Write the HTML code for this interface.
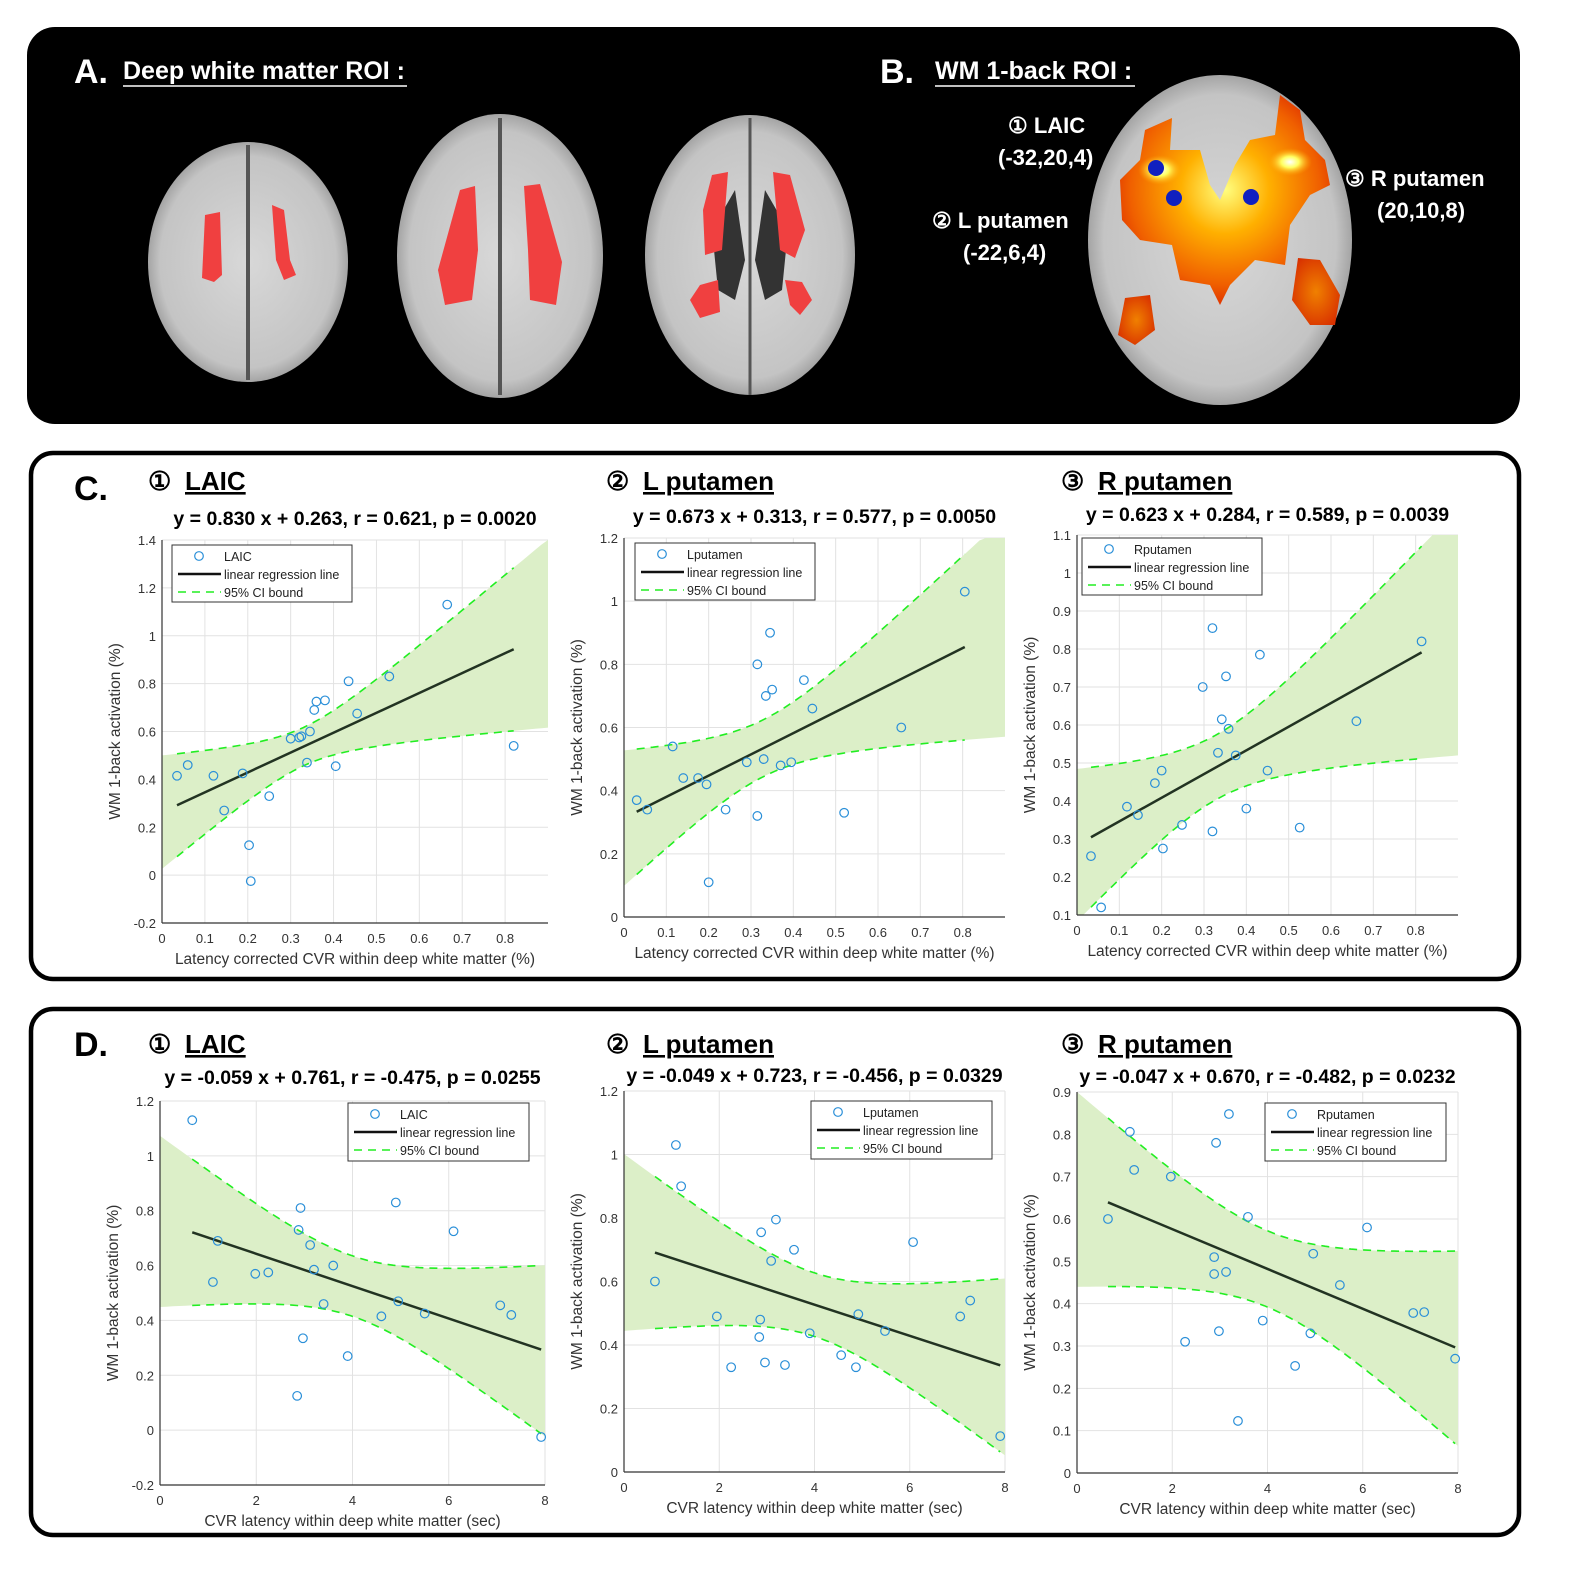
<!DOCTYPE html>
<html><head><meta charset="utf-8">
<style>
body{margin:0;background:#fff;width:1581px;height:1574px;overflow:hidden;font-family:"Liberation Sans",sans-serif;}
svg text{font-family:"Liberation Sans",sans-serif;}
</style></head>
<body>
<svg id="fig" width="1581" height="1574" viewBox="0 0 1581 1574" xmlns="http://www.w3.org/2000/svg">
<defs>
<radialGradient id="heat" cx="50%" cy="45%" r="60%">
<stop offset="0" stop-color="#ffff80"/><stop offset="0.35" stop-color="#ffb000"/><stop offset="0.75" stop-color="#f06000"/><stop offset="1" stop-color="#d82000"/>
</radialGradient>
<radialGradient id="hot2" cx="50%" cy="50%" r="50%"><stop offset="0" stop-color="#ffffff"/><stop offset="0.4" stop-color="#ffff60"/><stop offset="1" stop-color="#ffa000" stop-opacity="0"/></radialGradient>
<radialGradient id="side" cx="50%" cy="50%" r="60%"><stop offset="0" stop-color="#f08000"/><stop offset="1" stop-color="#d83000"/></radialGradient>
<radialGradient id="gm" cx="50%" cy="50%" r="55%"><stop offset="0" stop-color="#d8d8d8"/><stop offset="0.8" stop-color="#c4c4c4"/><stop offset="1" stop-color="#8a8a8a"/></radialGradient>
</defs>
<rect x="27" y="27" width="1493" height="397" rx="28" fill="#000"/>
<g>
<text x="74" y="83" fill="#fff" font-size="34" font-weight="bold">A.</text>
<text x="123" y="79" fill="#fff" font-size="25" font-weight="bold">Deep white matter ROI :</text>
<line x1="123" y1="86" x2="407" y2="86" stroke="#fff" stroke-width="1.5"/>
<g>
<ellipse cx="248" cy="262" rx="100" ry="120" fill="url(#gm)"/>
<line x1="248" y1="145" x2="248" y2="380" stroke="#555" stroke-width="4"/>
<path d="M205 215 L220 212 L222 275 L214 282 L202 278 Z" fill="#f04040"/>
<path d="M272 205 L284 210 L290 260 L296 275 L284 280 L276 260 Z" fill="#f04040"/>
</g>
<g>
<ellipse cx="500" cy="256" rx="103" ry="142" fill="url(#gm)"/>
<line x1="500" y1="118" x2="500" y2="395" stroke="#555" stroke-width="4"/>
<path d="M460 190 L475 186 L478 250 L472 300 L445 305 L438 270 Z" fill="#f04040"/>
<path d="M524 186 L540 184 L562 262 L556 305 L530 300 L528 250 Z" fill="#f04040"/>
</g>
<g>
<ellipse cx="750" cy="255" rx="105" ry="140" fill="url(#gm)"/>
<line x1="750" y1="118" x2="750" y2="395" stroke="#555" stroke-width="3"/>
<path d="M735 190 L712 230 L718 290 L735 300 L745 260 Z" fill="#333"/>
<path d="M765 190 L788 230 L782 290 L765 300 L755 260 Z" fill="#333"/>
<path d="M712 175 L728 172 L722 250 L705 255 L703 210 Z" fill="#f04040"/>
<path d="M773 172 L790 175 L805 230 L795 258 L780 250 Z" fill="#f04040"/>
<path d="M700 285 L718 280 L720 312 L700 318 L690 300 Z" fill="#f04040"/>
<path d="M785 280 L802 282 L812 300 L800 315 L790 305 Z" fill="#f04040"/>
</g>
</g>
<g>
<text x="880" y="83" fill="#fff" font-size="34" font-weight="bold">B.</text>
<text x="935" y="79" fill="#fff" font-size="25" font-weight="bold">WM 1-back  ROI :</text>
<line x1="935" y1="86" x2="1135" y2="86" stroke="#fff" stroke-width="1.5"/>
<g>
<ellipse cx="1220" cy="240" rx="132" ry="165" fill="url(#gm)"/>
<path d="M1145 130 L1172 118 L1170 150 L1200 150 L1210 185 L1220 200 L1235 165 L1250 140 L1275 135 L1280 95 L1300 110 L1305 140 L1325 160 L1330 185 L1310 195 L1290 225 L1285 265 L1255 260 L1230 285 L1220 305 L1210 285 L1180 280 L1172 245 L1140 240 L1122 220 L1120 180 L1140 160 Z" fill="url(#heat)"/>
<ellipse cx="1160" cy="170" rx="22" ry="15" fill="url(#hot2)"/>
<ellipse cx="1290" cy="162" rx="22" ry="14" fill="url(#hot2)"/>
<path d="M1125 298 L1150 295 L1155 330 L1135 345 L1118 335 Z" fill="url(#side)"/>
<path d="M1298 258 L1320 260 L1340 295 L1335 325 L1310 325 L1292 300 Z" fill="url(#side)"/>
<circle cx="1156" cy="168" r="8" fill="#1020c0"/>
<circle cx="1174" cy="198" r="8" fill="#1020c0"/>
<circle cx="1251" cy="197" r="8" fill="#1020c0"/>
</g>
<g fill="#fff" font-size="22" font-weight="bold">
<text x="1008" y="133">①  LAIC</text>
<text x="998" y="165">(-32,20,4)</text>
<text x="932" y="228">②  L putamen</text>
<text x="963" y="260">(-22,6,4)</text>
<text x="1345" y="186">③  R putamen</text>
<text x="1377" y="218">(20,10,8)</text>
</g>
</g>
<rect x="31" y="453" width="1488" height="526" rx="22" fill="#fff" stroke="#000" stroke-width="4.5"/>
<rect x="31" y="1009" width="1488" height="526" rx="22" fill="#fff" stroke="#000" stroke-width="4.5"/>
<text x="74" y="500" font-size="34" font-weight="bold">C.</text>
<text x="74" y="1056" font-size="34" font-weight="bold">D.</text>
<g id="charts"></g>
</svg>
<script>
// ---- data ----
var c1x=[0.035,0.06,0.12,0.145,0.188,0.203,0.207,0.25,0.30,0.32,0.325,0.345,0.338,0.355,0.36,0.38,0.405,0.435,0.455,0.53,0.665,0.82];
var c1y=[0.415,0.46,0.415,0.27,0.425,0.125,-0.025,0.33,0.57,0.575,0.58,0.60,0.47,0.69,0.725,0.73,0.455,0.81,0.675,0.83,1.13,0.54];
var c2x=[0.03,0.055,0.115,0.14,0.175,0.195,0.20,0.24,0.29,0.315,0.315,0.33,0.335,0.345,0.35,0.37,0.395,0.425,0.445,0.52,0.655,0.805];
var c2y=[0.37,0.34,0.54,0.44,0.44,0.42,0.11,0.34,0.49,0.32,0.80,0.50,0.70,0.90,0.72,0.48,0.49,0.75,0.66,0.33,0.60,1.03];
var c3x=[0.033,0.057,0.118,0.144,0.184,0.20,0.203,0.248,0.297,0.32,0.32,0.333,0.342,0.352,0.358,0.375,0.40,0.432,0.45,0.526,0.66,0.814];
var c3y=[0.255,0.12,0.385,0.363,0.447,0.48,0.275,0.337,0.70,0.855,0.32,0.527,0.615,0.728,0.59,0.52,0.38,0.785,0.48,0.33,0.61,0.82];
var d1x=[0.67,1.1,1.2,1.98,2.25,2.85,2.88,2.92,2.97,3.12,3.2,3.4,3.6,3.9,4.6,4.9,4.95,5.5,6.1,7.07,7.3,7.92];
var d1y=[1.13,0.54,0.69,0.57,0.575,0.125,0.73,0.81,0.335,0.675,0.585,0.46,0.60,0.27,0.415,0.83,0.47,0.425,0.725,0.455,0.42,-0.025];
var d2x=[0.65,1.09,1.2,1.95,2.25,2.84,2.86,2.88,2.96,3.09,3.19,3.38,3.57,3.9,4.56,4.87,4.92,5.48,6.07,7.06,7.27,7.9];
var d2y=[0.60,1.03,0.90,0.49,0.33,0.425,0.48,0.755,0.345,0.665,0.795,0.337,0.70,0.437,0.368,0.33,0.497,0.444,0.724,0.49,0.54,0.113];
var d3x=[0.65,1.11,1.2,1.97,2.27,2.88,2.88,2.92,2.98,3.13,3.19,3.38,3.59,3.9,4.58,4.9,4.96,5.52,6.09,7.06,7.29,7.94];
var d3y=[0.60,0.806,0.716,0.70,0.31,0.51,0.47,0.78,0.335,0.475,0.848,0.123,0.605,0.36,0.253,0.33,0.518,0.444,0.58,0.378,0.38,0.27];
var slopes=[0.830,0.673,0.623,-0.059,-0.049,-0.047];
var intercepts=[0.263,0.313,0.284,0.761,0.723,0.670];
var ciMin=[0.08,0.09,0.085,0.11,0.10,0.09];
var ciGrow=[0.676,0.59,0.55,0.073,0.065,0.053];
var ciMid=[0.33,0.33,0.33,4,4,4];
var yTicksC1=[-0.2,0,0.2,0.4,0.6,0.8,1,1.2,1.4];
var yTicksC2=[0,0.2,0.4,0.6,0.8,1,1.2];
var yTicksC3=[0.1,0.2,0.3,0.4,0.5,0.6,0.7,0.8,0.9,1,1.1];
var yTicksD1=[-0.2,0,0.2,0.4,0.6,0.8,1,1.2];
var yTicksD2=[0,0.2,0.4,0.6,0.8,1,1.2];
var yTicksD3=[0,0.1,0.2,0.3,0.4,0.5,0.6,0.7,0.8,0.9];
var xTicksC=[0,0.1,0.2,0.3,0.4,0.5,0.6,0.7,0.8];
var xTicksD=[0,2,4,6,8];
var titles=["LAIC","L putamen","R putamen","LAIC","L putamen","R putamen"];
var legendNames=["LAIC","Lputamen","Rputamen","LAIC","Lputamen","Rputamen"];
var eqs=["y = 0.830 x + 0.263, r = 0.621, p = 0.0020","y = 0.673 x + 0.313, r = 0.577, p = 0.0050","y = 0.623 x + 0.284, r = 0.589, p = 0.0039",
"y = -0.059 x + 0.761, r = -0.475, p = 0.0255","y = -0.049 x + 0.723, r = -0.456, p = 0.0329","y = -0.047 x + 0.670, r = -0.482, p = 0.0232"];

var NS="http://www.w3.org/2000/svg";
var root=document.getElementById('charts');
function mk(tag,attrs,parent,txt){var e=document.createElementNS(NS,tag);for(var k in attrs)e.setAttribute(k,attrs[k]);if(txt!=null)e.textContent=txt;(parent||root).appendChild(e);return e;}
var charts=[
 {x:c1x,y:c1y,L:162,R:548,T:540,B:923,xmin:0,xmax:0.9,ymin:-0.2,ymax:1.4,yt:yTicksC1,xt:xTicksC,tx:148,ty:490,ey:525,xl:"Latency corrected CVR within deep white matter (%)",leg:[172,545,180,57]},
 {x:c2x,y:c2y,L:624,R:1005,T:538,B:917,xmin:0,xmax:0.9,ymin:0,ymax:1.2,yt:yTicksC2,xt:xTicksC,tx:606,ty:490,ey:523,xl:"Latency corrected CVR within deep white matter (%)",leg:[635,543,180,57]},
 {x:c3x,y:c3y,L:1077,R:1458,T:535,B:915,xmin:0,xmax:0.9,ymin:0.1,ymax:1.1,yt:yTicksC3,xt:xTicksC,tx:1061,ty:490,ey:521,xl:"Latency corrected CVR within deep white matter (%)",leg:[1082,538,180,57]},
 {x:d1x,y:d1y,L:160,R:545,T:1101,B:1485,xmin:0,xmax:8,ymin:-0.2,ymax:1.2,yt:yTicksD1,xt:xTicksD,tx:148,ty:1053,ey:1084,xl:"CVR latency within deep white matter (sec)",leg:[348,1103,181,58]},
 {x:d2x,y:d2y,L:624,R:1005,T:1091,B:1472,xmin:0,xmax:8,ymin:0,ymax:1.2,yt:yTicksD2,xt:xTicksD,tx:606,ty:1053,ey:1082,xl:"CVR latency within deep white matter (sec)",leg:[811,1101,181,58]},
 {x:d3x,y:d3y,L:1077,R:1458,T:1092,B:1473,xmin:0,xmax:8,ymin:0,ymax:0.9,yt:yTicksD3,xt:xTicksD,tx:1061,ty:1053,ey:1083,xl:"CVR latency within deep white matter (sec)",leg:[1265,1103,181,58]}
];
var circ=["①","②","③","①","②","③"];
charts.forEach(function(c,i){
 var g=mk('g',{});
 
 
 function sx(v){return c.L+(v-c.xmin)/(c.xmax-c.xmin)*(c.R-c.L);}
 function sy(v){return c.B-(v-c.ymin)/(c.ymax-c.ymin)*(c.B-c.T);}
 var cx=(c.L+c.R)/2;
 var t=mk('text',{x:c.tx,y:c.ty,'font-size':26,'font-weight':'bold'},g,circ[i]);
 
 
 var t2=mk('text',{x:c.tx+37,y:c.ty,'font-size':26,'font-weight':'bold','text-decoration':'underline'},g,titles[i]);
 
 
 var eq=mk('text',{x:cx,y:c.ey,'font-size':19.5,'font-weight':'bold','text-anchor':'middle'},g,eqs[i]);
 
 
 c.yt.forEach(function(v){mk('line',{x1:c.L,x2:c.R,y1:sy(v),y2:sy(v),stroke:'#e2e2e2','stroke-width':1},g);
  var tl=mk('text',{x:c.L-6,y:sy(v)+5,'font-size':13,'text-anchor':'end',fill:'#333'},g,String(v));
  
  });
 c.xt.forEach(function(v){mk('line',{x1:sx(v),x2:sx(v),y1:c.T,y2:c.B,stroke:'#e2e2e2','stroke-width':1},g);
  var tl=mk('text',{x:sx(v),y:c.B+20,'font-size':13,'text-anchor':'middle',fill:'#333'},g,String(v));
  
  });
 var m=slopes[i],b=intercepts[i];
 function hw(x){return Math.sqrt(ciMin[i]*ciMin[i]+ciGrow[i]*ciGrow[i]*(x-ciMid[i])*(x-ciMid[i]));}
 var N=60,up=[],lo=[];
 for(var k=0;k<=N;k++){var x=c.xmin+(c.xmax-c.xmin)*k/N;var yy=m*x+b;up.push([sx(x),Math.max(c.T,sy(yy+hw(x)))]);lo.push([sx(x),Math.min(c.B,sy(yy-hw(x)))]);}
 var d='M'+up.map(function(p){return p[0].toFixed(1)+' '+p[1].toFixed(1);}).join(' L')+' L'+lo.reverse().map(function(p){return p[0].toFixed(1)+' '+p[1].toFixed(1);}).join(' L')+' Z';
 var band=mk('path',{d:d,fill:'#dcefc8'},g);
 
 
 var x0=Math.min.apply(null,c.x),x1=Math.max.apply(null,c.x);
 [1,-1].forEach(function(sgn){var pts=[];for(var k=0;k<=40;k++){var x=x0+(x1-x0)*k/40;var yv=sy(m*x+b+sgn*hw(x));yv=Math.max(c.T,Math.min(c.B,yv));pts.push(sx(x).toFixed(1)+','+yv.toFixed(1));}
  var pl=mk('polyline',{points:pts.join(' '),fill:'none',stroke:'#22ee22','stroke-width':1.6,'stroke-dasharray':'8 6'},g);
  
  });
 var rl=mk('line',{x1:sx(x0),y1:sy(m*x0+b),x2:sx(x1),y2:sy(m*x1+b),stroke:'#223322','stroke-width':2.5},g);
 
 
 c.x.forEach(function(xv,j){var p=mk('circle',{cx:sx(xv),cy:sy(c.y[j]),r:4.3,fill:'none',stroke:'#2a8fd8','stroke-width':1.2},g);
  
  });
 mk('line',{x1:c.L,y1:c.T,x2:c.L,y2:c.B,stroke:'#333','stroke-width':1.2},g);
 mk('line',{x1:c.L,y1:c.B,x2:c.R,y2:c.B,stroke:'#333','stroke-width':1.2},g);
 var yl=mk('text',{x:0,y:0,'font-size':15.5,'text-anchor':'middle',fill:'#333',transform:'translate('+(c.L-42)+','+((c.T+c.B)/2)+') rotate(-90)'},g,'WM 1-back activation (%)');
 
 
 var xl=mk('text',{x:cx,y:c.B+41,'font-size':15.5,'text-anchor':'middle',fill:'#333'},g,c.xl);
 
 
 var L=c.leg;
 var lg=mk('g',{},g);
 
 
 mk('rect',{x:L[0],y:L[1],width:L[2],height:L[3],fill:'#fff',stroke:'#333','stroke-width':1},lg);
 mk('circle',{cx:L[0]+27,cy:L[1]+11,r:4.3,fill:'none',stroke:'#2a8fd8','stroke-width':1.2},lg);
 mk('text',{x:L[0]+52,y:L[1]+16,'font-size':12.5,fill:'#222'},lg,legendNames[i]);
 mk('line',{x1:L[0]+6,x2:L[0]+49,y1:L[1]+29,y2:L[1]+29,stroke:'#111','stroke-width':2.5},lg);
 mk('text',{x:L[0]+52,y:L[1]+34,'font-size':12.5,fill:'#222'},lg,'linear regression line');
 mk('line',{x1:L[0]+6,x2:L[0]+49,y1:L[1]+47,y2:L[1]+47,stroke:'#22ee22','stroke-width':1.6,'stroke-dasharray':'8 6'},lg);
 mk('text',{x:L[0]+52,y:L[1]+52,'font-size':12.5,fill:'#222'},lg,'95% CI bound');
});
</script>
</body></html>
